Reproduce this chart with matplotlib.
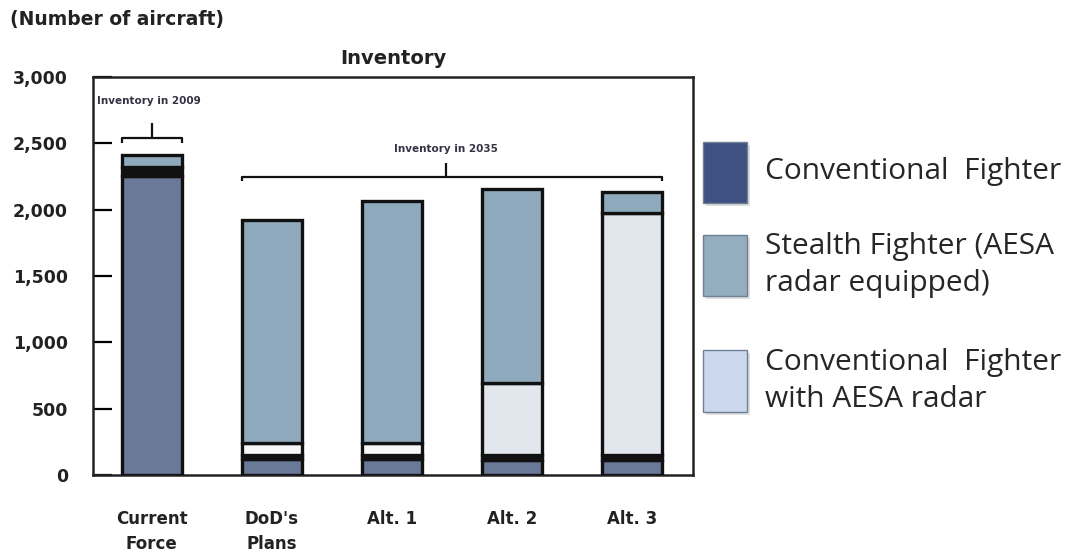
import matplotlib
matplotlib.use("Agg")
import matplotlib.pyplot as plt
from matplotlib.patches import Rectangle
import numpy as np

# Force structure options
categories = ["Current\nForce", "DoD's\nPlans", "Alt. 1", "Alt. 2", "Alt. 3"]
conventional = [2256, 120, 120, 113, 113]
band = [67, 30, 30, 37, 37]
aesa_conventional = [0, 90, 90, 542, 1827]
stealth = [90, 1685, 1828, 1466, 158]

y_ticks = [0, 500, 1000, 1500, 2000, 2500, 3000]
y_tick_labels = ["0", "500", "1,000", "1,500", "2,000", "2,500", "3,000"]

legend_names = ["Conventional  Fighter", "Stealth Fighter (AESA\nradar equipped)",
                "Conventional  Fighter\nwith AESA radar"]
legend_colors = ["#3f5082", "#94adbf", "#cbd8ee"]

c_conv = "#6b7999"
c_stealth = "#90aabd"
c_aesa = ["#e2e6ed", "#f6f7f9", "#f6f7f9", "#e2e6ed", "#e2e6ed"]

fig = plt.figure(figsize=(10.73, 5.54), dpi=100)
ax = fig.add_axes([93 / 1073, 1 - 475 / 554, 600 / 1073, 398 / 554])

x = np.arange(len(categories))
w = 0.5
lw = 2.4
bottom = np.zeros(len(x))
for vals, col in [(conventional, c_conv), (band, "#111111"),
                  (aesa_conventional, c_aesa), (stealth, c_stealth)]:
    v = np.array(vals, dtype=float)
    mask = v > 0
    cols = col if isinstance(col, list) else [col] * len(x)
    ax.bar(x[mask], v[mask], w, bottom=bottom[mask],
           color=[cols[i] for i in range(len(x)) if mask[i]],
           edgecolor="#111111", linewidth=lw, zorder=3)
    bottom += v

ax.set_xlim(-0.49, 4.51)
ax.set_ylim(0, 3000)
ax.set_yticks(y_ticks)
ax.set_yticklabels(y_tick_labels, fontsize=12.5, fontweight="bold", color="#222222")
ax.tick_params(axis="y", direction="in", length=14, width=1.6, pad=18)
ax.set_xticks(x)
ax.set_xticklabels(categories, fontsize=12, fontweight="bold", color="#222222",
                   linespacing=1.55)
ax.tick_params(axis="x", length=0, pad=25)
for s in ax.spines.values():
    s.set_linewidth(1.8)
    s.set_color("#222222")

ax.set_title("Inventory", fontsize=14, fontweight="bold", color="#222222", pad=9)
fig.text(10 / 1073, 1 - 20 / 554, "(Number of aircraft)", fontsize=13.5,
         fontweight="bold", color="#222222", va="center", ha="left")

# Brackets
bk = dict(color="#111111", lw=1.6, zorder=4, solid_capstyle="butt")
ax.plot([-0.25, -0.25, 0.25, 0.25], [2500, 2540, 2540, 2500], **bk)
ax.plot([0, 0], [2540, 2655], **bk)
ax.text(-0.46, 2820, "Inventory in 2009", fontsize=7.5, fontweight="bold",
        color="#333344", ha="left", va="center")

ax.plot([0.75, 0.75, 4.25, 4.25], [2215, 2246, 2246, 2215], **bk)
ax.plot([2.45, 2.45], [2246, 2350], **bk)
ax.text(2.45, 2455, "Inventory in 2035", fontsize=7.5, fontweight="bold",
        color="#333344", ha="center", va="center")

# Legend
boxes = [(142, 203), (235, 296), (350, 412)]
text_y = [172, 265, 381]
for (top, bot), ty, name, col in zip(boxes, text_y, legend_names, legend_colors):
    x0 = 703 / 1073
    bw = 44 / 1073
    y0 = 1 - bot / 554
    bh = (bot - top) / 554
    fig.add_artist(Rectangle((x0 + 3 / 1073, y0 - 3 / 554), bw, bh,
                             transform=fig.transFigure, facecolor="#000000",
                             alpha=0.12, edgecolor="none"))
    fig.add_artist(Rectangle((x0, y0), bw, bh, transform=fig.transFigure,
                             facecolor=col, edgecolor="#6f7f96", linewidth=1.0))
    fig.text(765 / 1073, 1 - ty / 554, name, fontsize=21.5, family="Open Sans",
             color="#262626", va="center", ha="left", linespacing=1.32)

fig.savefig("out.png", dpi=100)
